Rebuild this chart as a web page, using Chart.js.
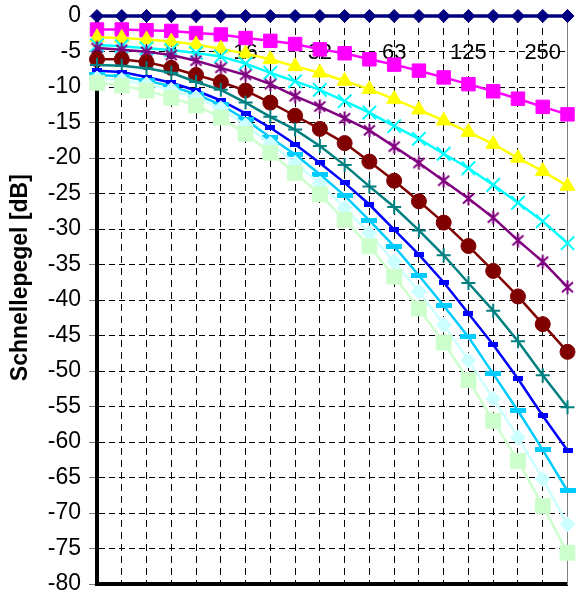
<!DOCTYPE html>
<html>
<head>
<meta charset="utf-8">
<script src="https://cdn.jsdelivr.net/npm/chart.js"></script>
<style>
  body { margin: 0; background: #fff; }
  canvas { display: block; }
</style>
</head>
<body>
<canvas id="chart" width="579" height="596"></canvas>
<script>
const freqLabels = ['4', '5', '6.3', '8', '10', '12.5', '16', '20', '25', '32', '40', '50', '63', '80', '100', '125', '160', '200', '250', '315'];
const shownLabels = ['4', '8', '16', '32', '63', '125', '250'];
const yMin = -80;
const yMax = 0;
const yStep = 5;

const reihe1 = [0, 0, 0, 0, 0, 0, 0, 0, 0, 0, 0, 0, 0, 0, 0, 0, 0, 0, 0, 0];
const reihe2 = [-1.9, -1.9, -2.0, -2.1, -2.4, -2.6, -3.1, -3.5, -3.95, -4.7, -5.25, -6.1, -6.85, -7.7, -8.65, -9.6, -10.6, -11.65, -12.8, -13.85];
const reihe3 = [-3.0, -3.1, -3.3, -3.6, -4.0, -4.6, -5.3, -6.1, -7.1, -8.0, -9.15, -10.3, -11.7, -13.2, -14.75, -16.35, -18.05, -20.0, -21.85, -23.95];
const reihe4 = [-4.1, -4.25, -4.55, -4.8, -5.2, -5.7, -6.7, -8.0, -9.2, -10.4, -12.0, -13.6, -15.5, -17.3, -19.4, -21.45, -23.8, -26.3, -28.9, -32.0];
const reihe5 = [-4.5, -4.75, -5.05, -5.5, -6.3, -7.3, -8.3, -9.6, -11.3, -12.75, -14.4, -16.1, -18.4, -20.7, -23.2, -25.7, -28.4, -31.6, -34.6, -38.2];
const reihe6 = [-6.1, -6.1, -6.5, -7.3, -8.3, -9.3, -10.5, -12.2, -14.05, -15.9, -17.9, -20.5, -23.2, -26.1, -29.1, -32.4, -35.9, -39.5, -43.4, -47.3];
const reihe7 = [-6.9, -7.0, -7.35, -8.0, -9.3, -10.4, -12.2, -14.2, -16.0, -18.3, -21.0, -24.0, -26.9, -30.2, -33.7, -37.6, -41.5, -45.8, -50.6, -55.1];
const reihe8 = [-7.7, -7.9, -8.6, -9.4, -10.5, -11.9, -13.7, -15.75, -18.05, -20.7, -23.5, -26.55, -30.1, -33.6, -37.5, -41.9, -46.3, -51.1, -56.3, -61.2];
const reihe9 = [-8.3, -8.5, -9.1, -9.9, -11.0, -12.5, -14.6, -17.1, -19.5, -22.3, -25.3, -28.8, -32.45, -36.55, -40.8, -45.2, -50.4, -55.6, -61.1, -66.9];
const reihe10 = [-8.8, -9.0, -9.6, -10.4, -11.5, -13.0, -15.4, -18.0, -20.7, -23.6, -27.0, -30.6, -34.6, -38.8, -43.5, -48.5, -53.9, -59.35, -65.2, -71.6];
const reihe11 = [-9.4, -9.8, -10.5, -11.5, -12.6, -14.3, -16.6, -19.25, -22.1, -25.1, -28.7, -32.45, -36.7, -41.2, -46.0, -51.3, -57.0, -62.65, -69.0, -75.6];

const fontFamily = "'Liberation Sans', Arial, sans-serif";

// small canvases for the Excel style markers Chart.js has no shape for
function makeMarker(w, h, draw) {
  const c = document.createElement('canvas');
  c.width = w;
  c.height = h;
  draw(c.getContext('2d'), w, h);
  return c;
}

const shortDash = makeMarker(10, 5, (g, w, h) => {
  g.fillStyle = '#0000FF';
  g.fillRect(0, 0, w, h);
});

const longDash = makeMarker(16, 5, (g, w, h) => {
  g.fillStyle = '#00CCFF';
  g.fillRect(0, 0, w, h);
});

const asterisk = makeMarker(15, 15, (g, w, h) => {
  g.strokeStyle = '#800080';
  g.lineWidth = 2;
  g.beginPath();
  g.moveTo(w / 2, 0.5); g.lineTo(w / 2, h - 0.5);
  g.moveTo(2, 2.5); g.lineTo(w - 2, h - 2.5);
  g.moveTo(w - 2, 2.5); g.lineTo(2, h - 2.5);
  g.stroke();
});

function series(label, data, color, style, radius, extra) {
  return Object.assign({
    label: label,
    data: data,
    borderColor: color,
    backgroundColor: color,
    pointBackgroundColor: color,
    pointBorderColor: color,
    borderWidth: 2.5,
    pointStyle: style,
    pointRadius: radius,
    pointBorderWidth: 1,
    tension: 0,
    clip: false
  }, extra || {});
}

const datasets = [
  series('Reihe1', reihe1, '#000080', 'rectRot', 6.5, { borderWidth: 3.5 }),
  series('Reihe2', reihe2, '#FF00FF', 'rect', 9.5),
  series('Reihe3', reihe3, '#FFFF00', 'triangle', 8.5),
  series('Reihe4', reihe4, '#00FFFF', 'crossRot', 9.5, { pointBorderWidth: 2 }),
  series('Reihe5', reihe5, '#800080', asterisk, 7.5),
  series('Reihe6', reihe6, '#800000', 'circle', 7.5),
  series('Reihe7', reihe7, '#008080', 'cross', 7, { pointBorderWidth: 2 }),
  series('Reihe8', reihe8, '#0000FF', shortDash, 5),
  series('Reihe9', reihe9, '#00CCFF', longDash, 8),
  series('Reihe10', reihe10, '#CCFFFF', 'rectRot', 7.5),
  series('Reihe11', reihe11, '#CCFFCC', 'rect', 10.5)
];
// Excel paints later series on top
datasets.forEach((d, i) => { d.order = -i; });

// keep the plot area where the layout padding puts it
function noPadding(scale) {
  scale.paddingTop = 0;
  scale.paddingBottom = 0;
  scale.paddingLeft = 0;
  scale.paddingRight = 0;
}

const ctx = document.getElementById('chart').getContext('2d');

new Chart(ctx, {
  type: 'line',
  data: {
    labels: freqLabels,
    datasets: datasets
  },
  options: {
    responsive: false,
    animation: false,
    events: [],
    layout: {
      padding: { top: 16, right: 1, bottom: 12, left: 0 }
    },
    plugins: {
      legend: { display: false },
      tooltip: { enabled: false }
    },
    scales: {
      x: {
        type: 'category',
        offset: false,
        grid: {
          color: '#000',
          lineWidth: 1,
          drawTicks: false
        },
        border: { color: '#000', width: 4, dash: [7, 5] },
        ticks: { display: false },
        afterFit: (scale) => { noPadding(scale); }
      },
      x2: {
        type: 'category',
        labels: freqLabels,
        position: { y: -5 },
        offset: false,
        z: 1,
        grid: { display: false, drawTicks: false },
        border: { display: false },
        ticks: {
          autoSkip: false,
          maxRotation: 0,
          minRotation: 0,
          padding: -12,
          color: '#000',
          font: { family: fontFamily, size: 22 },
          callback: function (value) {
            const l = this.getLabelForValue(value);
            return shownLabels.includes(l) ? l : '';
          }
        },
        afterFit: (scale) => { scale.height = 0; noPadding(scale); }
      },
      y: {
        min: yMin,
        max: yMax,
        grid: {
          color: '#000',
          lineWidth: 1,
          tickLength: 8,
          tickColor: '#808080',
          tickBorderDash: []
        },
        border: { color: '#000', width: 4, dash: [6, 4] },
        ticks: {
          stepSize: yStep,
          padding: 8,
          color: '#000',
          font: { family: fontFamily, size: 23 },
          callback: (v) => String(v)
        },
        title: {
          display: true,
          text: '       Schnellepegel [dB]',
          color: '#000',
          padding: { top: 7, bottom: 0 },
          font: { family: fontFamily, size: 23, weight: 'bold' }
        },
        afterFit: (scale) => { scale.width = 97; noPadding(scale); }
      },
      yRight: {
        position: 'right',
        min: yMin,
        max: yMax,
        grid: { display: false, drawTicks: false },
        border: { color: '#808080', width: 1 },
        ticks: { display: false },
        afterFit: (scale) => { scale.width = 0; noPadding(scale); }
      }
    }
  }
});
</script>
</body>
</html>
